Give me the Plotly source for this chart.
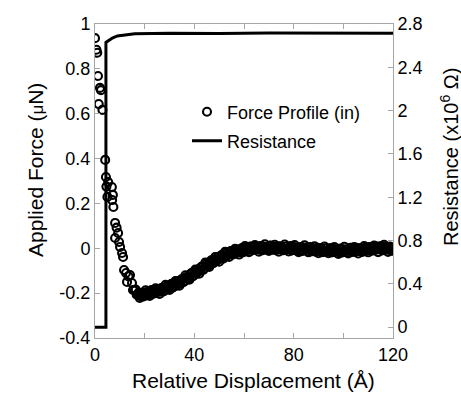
import plotly.graph_objects as go

# ---- data ----
disp = [0.0, 0.6, 0.9, 1.2, 1.5, 2.0, 2.4, 3.0, 4.1, 4.4, 4.6, 5.3, 5.0, 6.8, 6.9, 7.2, 7.4,
        8.1, 8.7, 9.3, 8.1, 9.7, 10.1, 10.9, 11.3, 11.7, 12.5, 12.9, 13.5, 14.1, 14.9, 15.3,
        16.0, 16.8, 17.6, 18.4, 19.2, 20.0, 20.8, 21.6, 22.4, 23.2,
        24.0, 24.8, 25.6, 26.4, 27.2, 28.0, 28.8, 29.6, 30.4, 31.2,
        32.0, 32.8, 33.6, 34.4, 35.2, 36.0, 36.8, 37.6, 38.4, 39.2,
        40.0, 40.8, 41.6, 42.4, 43.2, 44.0, 44.8, 45.6, 46.4, 47.2,
        48.0, 48.8, 49.6, 50.4, 51.2, 52.0, 52.8, 53.6, 54.4, 55.2,
        56.0, 56.8, 57.6, 58.4, 59.2, 60.0, 60.8, 61.6, 62.4, 63.2,
        64.0, 64.8, 65.6, 66.4, 67.2, 68.0, 68.8, 69.6, 70.4, 71.2,
        72.0, 72.8, 73.6, 74.4, 75.2, 76.0, 76.8, 77.6, 78.4, 79.2,
        80.0, 80.8, 81.6, 82.4, 83.2, 84.0, 84.8, 85.6, 86.4, 87.2,
        88.0, 88.8, 89.6, 90.4, 91.2, 92.0, 92.8, 93.6, 94.4, 95.2,
        96.0, 96.8, 97.6, 98.4, 99.2, 100.0, 100.8, 101.6, 102.4, 103.2,
        104.0, 104.8, 105.6, 106.4, 107.2, 108.0, 108.8, 109.6, 110.4, 111.2,
        112.0, 112.8, 113.6, 114.4, 115.2, 116.0, 116.8, 117.6, 118.4, 119.2, 120.0]
force = [0.937, 0.885, 0.872, 0.768, 0.643, 0.715, 0.705, 0.617, 0.394, 0.318, 0.275, 0.295, 0.229,
         0.273, 0.215, 0.238, 0.184, 0.113, 0.092, 0.068, 0.046, 0.028, 0.006, -0.021, -0.039,
         -0.097, -0.110, -0.150, -0.125, -0.119, -0.155, -0.186,
         -0.188, -0.207, -0.198, -0.214, -0.199, -0.210, -0.195, -0.206, -0.190, -0.201,
         -0.186, -0.197, -0.183, -0.194, -0.176, -0.188, -0.171, -0.180, -0.164, -0.176,
         -0.155, -0.167, -0.146, -0.157, -0.139, -0.147, -0.128, -0.138, -0.117, -0.126,
         -0.106, -0.114, -0.094, -0.101, -0.083, -0.090, -0.071, -0.078, -0.060, -0.068,
         -0.049, -0.057, -0.038, -0.046, -0.029, -0.038, -0.022, -0.031, -0.015, -0.026,
         -0.010, -0.021, -0.006, -0.017, 0.001, -0.011, 0.004, -0.008, 0.007, -0.006,
         0.009, -0.004, 0.008, -0.006, 0.010, -0.003, 0.007, -0.007, 0.011, -0.002,
         0.006, -0.008, 0.009, -0.004, 0.005, -0.009, 0.008, -0.005, 0.004, -0.010,
         0.006, -0.007, 0.002, -0.012, 0.004, -0.009, 0.001, -0.013, 0.003, -0.011,
         -0.001, -0.015, 0.002, -0.012, -0.003, -0.016, 0.000, -0.014, -0.004, -0.018,
         -0.002, -0.015, -0.006, -0.019, -0.003, -0.016, -0.005, -0.018, -0.002, -0.014,
         -0.004, -0.016, 0.000, -0.012, -0.003, -0.013, 0.002, -0.009, 0.004, -0.008,
         0.006, -0.005, 0.008, -0.004, 0.009, -0.003, 0.007, -0.006, 0.005, -0.008, 0.003]

# second, interleaved pass of the force profile (the dense band)
disp2 = [16.4, 17.2, 18.0, 18.8, 19.6, 20.4, 21.2, 22.0, 22.8, 23.6,
         24.4, 25.2, 26.0, 26.8, 27.6, 28.4, 29.2, 30.0, 30.8, 31.6,
         32.4, 33.2, 34.0, 34.8, 35.6, 36.4, 37.2, 38.0, 38.8, 39.6,
         40.4, 41.2, 42.0, 42.8, 43.6, 44.4, 45.2, 46.0, 46.8, 47.6,
         48.4, 49.2, 50.0, 50.8, 51.6, 52.4, 53.2, 54.0, 54.8, 55.6,
         56.4, 57.2, 58.0, 58.8, 59.6, 60.4, 61.2, 62.0, 62.8, 63.6,
         64.4, 65.2, 66.0, 66.8, 67.6, 68.4, 69.2, 70.0, 70.8, 71.6,
         72.4, 73.2, 74.0, 74.8, 75.6, 76.4, 77.2, 78.0, 78.8, 79.6,
         80.4, 81.2, 82.0, 82.8, 83.6, 84.4, 85.2, 86.0, 86.8, 87.6,
         88.4, 89.2, 90.0, 90.8, 91.6, 92.4, 93.2, 94.0, 94.8, 95.6,
         96.4, 97.2, 98.0, 98.8, 99.6, 100.4, 101.2, 102.0, 102.8, 103.6,
         104.4, 105.2, 106.0, 106.8, 107.6, 108.4, 109.2, 110.0, 110.8, 111.6,
         112.4, 113.2, 114.0, 114.8, 115.6, 116.4, 117.2, 118.0, 118.8, 119.6]
force2 = [-0.184, -0.206, -0.221, -0.198, -0.215, -0.187, -0.203, -0.212, -0.186, -0.202,
          -0.178, -0.194, -0.204, -0.177, -0.192, -0.163, -0.178, -0.186, -0.158, -0.172,
          -0.146, -0.160, -0.167, -0.138, -0.151, -0.120, -0.133, -0.140, -0.110, -0.123,
          -0.095, -0.107, -0.113, -0.083, -0.096, -0.064, -0.077, -0.083, -0.054, -0.066,
          -0.039, -0.052, -0.060, -0.032, -0.046, -0.016, -0.030, -0.039, -0.012, -0.027,
          -0.002, -0.018, -0.028, -0.002, -0.018, 0.010, -0.006, -0.017, 0.008, -0.009,
          0.014, -0.003, -0.015, 0.010, -0.008, 0.018, 0.000, -0.012, 0.012, -0.006,
          0.016, -0.002, -0.015, 0.009, -0.009, 0.017, -0.002, -0.014, 0.010, -0.008,
          0.014, -0.005, -0.017, 0.006, -0.012, 0.013, -0.005, -0.018, 0.006, -0.013,
          0.009, -0.010, -0.022, 0.001, -0.017, 0.008, -0.010, -0.022, 0.001, -0.017,
          0.005, -0.013, -0.025, -0.001, -0.019, 0.007, -0.011, -0.023, 0.002, -0.016,
          0.006, -0.012, -0.023, 0.001, -0.016, 0.010, -0.007, -0.018, 0.006, -0.011,
          0.012, -0.006, -0.017, 0.008, -0.010, 0.016, -0.003, -0.016, 0.008, -0.011]

res_disp = [0.0, 4.4, 4.4, 5.5, 7.0, 9.0, 12.0, 16.0, 30.0, 50.0, 70.0, 90.0, 110.0, 120.0]
resistance = [0.0, 0.0, 2.63, 2.65, 2.67, 2.69, 2.70, 2.71, 2.715, 2.712, 2.716, 2.713, 2.715, 2.714]

x_ticks = [0, 40, 80, 120]
x_minor_ticks = [20, 60, 100]
yl_ticks = [-0.4, -0.2, 0, 0.2, 0.4, 0.6, 0.8, 1.0]
yl_labels = ["-0.4", "-0.2", "0", "0.2", "0.4", "0.6", "0.8", "1"]
yr_ticks = [0, 0.4, 0.8, 1.2, 1.6, 2.0, 2.4, 2.8]
yr_labels = ["0", "0.4", "0.8", "1.2", "1.6", "2", "2.4", "2.8"]

assert len(disp) == len(force)
assert len(disp2) == len(force2)

FONT = "Liberation Sans, Arial, sans-serif"
GREY = "#a6a6a6"

fig = go.Figure()
fig.add_trace(go.Scatter(
    x=disp + disp2, y=force + force2, mode="markers", name="Force Profile (in)",
    marker=dict(symbol="circle-open", size=8, color="black", line=dict(width=2.1, color="black")),
    legend="legend", yaxis="y"))
fig.add_trace(go.Scatter(
    x=res_disp, y=resistance, mode="lines", name="Resistance",
    line=dict(color="black", width=3), legend="legend2", yaxis="y2"))

W, H = 461, 398
L, R, T, B = 95, 68, 24, 60
pw, ph = W - L - R, H - T - B


def px_x(px):
    return (px - L) / pw


def px_y(py):
    return (H - B - py) / ph


axis_common = dict(showgrid=False, zeroline=False, showline=True, linecolor=GREY, linewidth=1,
                   ticks="inside", ticklen=5, tickcolor=GREY, tickwidth=1,
                   tickfont=dict(size=18, color="black", family=FONT))

fig.update_layout(
    width=W, height=H,
    margin=dict(l=L, r=R, t=T, b=B),
    paper_bgcolor="white", plot_bgcolor="white",
    font=dict(family=FONT, color="black"),
    xaxis=dict(range=[0, 120], tickvals=x_ticks, mirror="ticks",
               minor=dict(tickvals=x_minor_ticks, ticks="inside", ticklen=5, tickcolor=GREY, tickwidth=1),
               **axis_common),
    yaxis=dict(range=[-0.4, 1.0], tickvals=yl_ticks, ticktext=yl_labels, **axis_common),
    yaxis2=dict(range=[-0.1, 2.8], tickvals=yr_ticks, ticktext=yr_labels, overlaying="y",
                side="right", **axis_common),
    legend=dict(x=px_x(187), y=px_y(112), xanchor="left", yanchor="middle",
                bgcolor="rgba(0,0,0,0)", borderwidth=0, font=dict(size=18, family=FONT)),
    legend2=dict(x=px_x(187), y=px_y(141), xanchor="left", yanchor="middle",
                 bgcolor="rgba(0,0,0,0)", borderwidth=0, font=dict(size=18, family=FONT)),
    showlegend=True,
    annotations=[
        dict(text="Relative Displacement (Å)", x=px_x(253), y=px_y(380), xref="paper", yref="paper",
             xanchor="center", yanchor="middle", showarrow=False, font=dict(size=21, family=FONT)),
        dict(text="Applied Force (<span style='font-size:17px'>μ</span>N)", x=px_x(35), y=px_y(170),
             xref="paper", yref="paper", xanchor="center", yanchor="middle", textangle=-90,
             showarrow=False, font=dict(size=21, family=FONT)),
        dict(text="Resistance (x10<sup>6</sup> Ω)", x=px_x(449), y=px_y(157), xref="paper", yref="paper",
             xanchor="center", yanchor="middle", textangle=-90, showarrow=False,
             font=dict(size=20, family=FONT)),
    ],
)

fig.write_html("out.html", config={"displayModeBar": False},
               post_script="document.body.style.margin='0';document.body.style.overflow='hidden';")
